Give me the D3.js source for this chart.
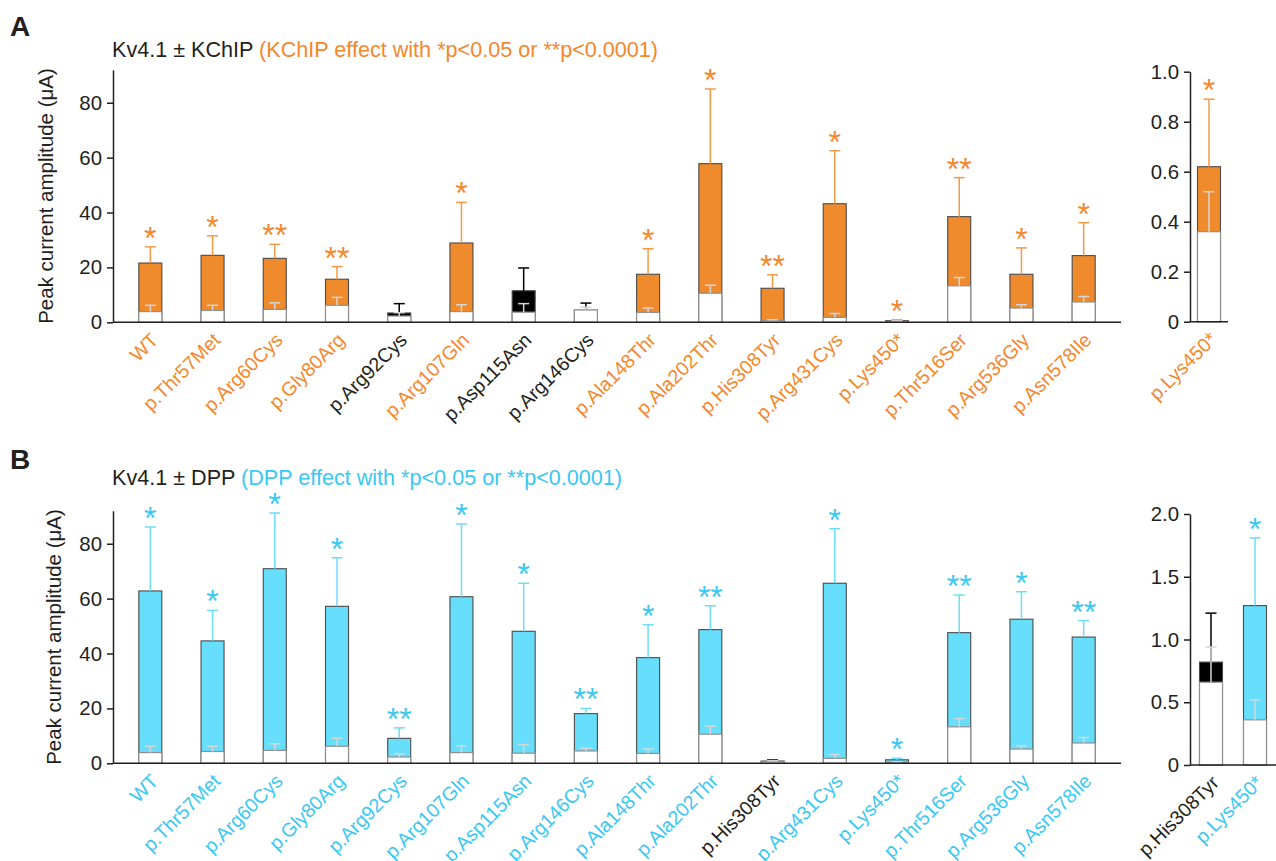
<!DOCTYPE html>
<html><head><meta charset="utf-8">
<script src="https://cdn.jsdelivr.net/npm/d3@7"></script>
<style>
body{margin:0;background:#fff}
svg{display:block}
text{font-family:"Liberation Sans",Arial,Helvetica,sans-serif}
</style>
</head><body>
<svg id="chart" width="1276" height="861"></svg>
<script>
// ---------- data ----------
const categories = ["WT","p.Thr57Met","p.Arg60Cys","p.Gly80Arg","p.Arg92Cys","p.Arg107Gln","p.Asp115Asn","p.Arg146Cys","p.Ala148Thr","p.Ala202Thr","p.His308Tyr","p.Arg431Cys","p.Lys450*","p.Thr516Ser","p.Arg536Gly","p.Asn578Ile"];
const aloneMean = [3.9,4.3,4.7,6.2,2.3,3.9,3.7,4.5,3.6,10.6,0.66,1.8,0.36,13.3,5.2,7.4];
const aloneSem  = [2.3,1.9,2.4,2.9,1.2,2.5,3.1,1.0,1.6,2.9,0.28,1.4,0.16,3.0,1.2,2.0];
const kchipMean = [21.6,24.4,23.3,15.7,3.4,28.9,11.5,4.4,17.5,57.8,12.4,43.2,0.62,38.5,17.5,24.3];
const kchipSem  = [5.9,7.1,5.1,4.6,3.4,14.8,8.3,2.6,9.3,27.2,4.9,19.3,0.27,14.2,9.6,12.0];
const kchipSig  = [1,1,2,2,0,1,0,0,1,1,2,1,1,2,1,1];
const dppMean = [62.8,44.6,70.9,57.2,9.1,60.7,48.1,18.1,38.5,48.7,0.82,65.6,1.27,47.6,52.5,46.0];
const dppSem  = [23.3,11.1,20.3,17.7,3.8,26.5,17.5,1.9,12.0,8.7,0.39,19.9,0.54,13.7,10.0,6.0];
const dppSig  = [1,1,1,1,2,1,1,2,1,2,0,1,1,2,1,2];
const mainTicks = [0,20,40,60,80];
const insetKchipCats = ["p.Lys450*"];
const insetKchipTicks = [0,0.2,0.4,0.6,0.8,1.0];
const insetDppCats = ["p.His308Tyr","p.Lys450*"];
const insetDppTicks = [0,0.5,1.0,1.5,2.0];

// ---------- style ----------
const ink = "#231f20";
const orange = {fill:"#EF8B2D", err:"#F29A48", text:"#F7862A"};
const cyan = {fill:"#66DEFC", err:"#6EDCF8", text:"#38C8F4"};
const BW = 23, CAP = 11;
const fmtInset = v => v === 0 ? "0" : d3.format(".1f")(v);

const svg = d3.select("#chart");
svg.append("rect").attr("width",1276).attr("height",861).attr("fill","#fff");

function drawPanel(o){
  const g = svg.append("g");
  const x = d3.scalePoint().domain(o.cats).range(o.xRange).padding(o.pad);
  const y = d3.scaleLinear().domain(o.yDomain).range(o.yRange);
  const rows = o.cats.map(c => {
    const i = categories.indexOf(c);
    return {c, a:aloneMean[i], as:aloneSem[i], m:o.mean[i], s:o.sem[i], sig:o.sig[i]};
  });
  const y0 = y(0);
  // coloured bars (with accessory subunit)
  g.selectAll(".cb").data(rows).join("rect")
    .attr("x", d => x(d.c) - BW/2).attr("width", BW)
    .attr("y", d => y(d.m)).attr("height", d => y0 - y(d.m))
    .attr("fill", d => d.sig ? o.col.fill : "#000")
    .attr("stroke", "#4a4a4a").attr("stroke-width", 1.1);
  // coloured error bars
  const ce = g.selectAll(".ce").data(rows).join("g")
    .attr("stroke", d => d.sig ? o.col.err : "#000").attr("stroke-width", 1.5);
  ce.append("line").attr("x1", d => x(d.c)).attr("x2", d => x(d.c))
    .attr("y1", d => y(d.m)).attr("y2", d => y(d.m + d.s));
  ce.append("line").attr("x1", d => x(d.c) - CAP/2).attr("x2", d => x(d.c) + CAP/2)
    .attr("y1", d => y(d.m + d.s)).attr("y2", d => y(d.m + d.s));
  // white bars (Kv4.1 alone)
  g.selectAll(".wb").data(rows).join("rect")
    .attr("x", d => x(d.c) - BW/2).attr("width", BW)
    .attr("y", d => y(d.a)).attr("height", d => y0 - y(d.a))
    .attr("fill", "#fff").attr("stroke", "#8f8f8f").attr("stroke-width", 1.2);
  const we = g.selectAll(".we").data(rows).join("g")
    .attr("stroke", "#d6d6d6").attr("stroke-width", 1.5);
  we.append("line").attr("x1", d => x(d.c)).attr("x2", d => x(d.c))
    .attr("y1", d => y(d.a)).attr("y2", d => y(d.a + d.as));
  we.append("line").attr("x1", d => x(d.c) - CAP/2).attr("x2", d => x(d.c) + CAP/2)
    .attr("y1", d => y(d.a + d.as)).attr("y2", d => y(d.a + d.as));
  // significance stars
  g.selectAll(".st").data(rows.filter(d => d.sig)).join("text")
    .attr("x", d => x(d.c)).attr("y", d => y(d.m + d.s) + 2)
    .attr("text-anchor", "middle").attr("font-size", 32)
    .attr("fill", o.col.text).text(d => d.sig === 2 ? "**" : "*");
  // axes
  const ya = d3.axisLeft(y).tickValues(o.ticks).tickSize(6).tickPadding(5).tickSizeOuter(0);
  if (o.fmt) ya.tickFormat(o.fmt);
  const ag = g.append("g").attr("transform", `translate(${o.xRange[0]},0)`).call(ya);
  ag.select(".domain").attr("stroke", ink).attr("stroke-width", 1.5);
  ag.selectAll(".tick line").attr("stroke", ink).attr("stroke-width", 1.5);
  ag.selectAll(".tick text").attr("font-size", 20.4).attr("fill", ink)
    .attr("font-family", '"Liberation Sans",Arial,sans-serif');
  g.append("line").attr("x1", o.xRange[0]).attr("x2", o.xEnd)
    .attr("y1", y0).attr("y2", y0).attr("stroke", ink).attr("stroke-width", 1.5);
  // category labels
  g.selectAll(".xl").data(rows).join("text")
    .attr("transform", d => `translate(${x(d.c) + 9},${y0 + 19}) rotate(-45)`)
    .attr("text-anchor", "end").attr("font-size", 19.5)
    .attr("fill", d => d.sig ? o.col.text : ink).text(d => d.c);
  return {x, y};
}

function drawHeader(letter, ly, titleY, black, coloured, col, labelX, axisMid){
  svg.append("text").attr("x", 10).attr("y", ly).attr("font-size", 28)
    .attr("font-weight", "bold").attr("fill", ink).text(letter);
  const t = svg.append("text").attr("x", 112).attr("y", titleY).attr("font-size", 21.6).attr("fill", ink);
  t.append("tspan").text(black);
  t.append("tspan").attr("fill", col.text).text(coloured);
  svg.append("text").attr("transform", `translate(${labelX},${axisMid}) rotate(-90)`)
    .attr("text-anchor", "middle").attr("font-size", 20.5).attr("fill", ink)
    .text("Peak current amplitude (\u03BCA)");
}

// Panel A
drawHeader("A", 36, 56.5, "Kv4.1 \u00B1 KChIP ", "(KChIP effect with *p<0.05 or **p<0.0001)", orange, 53, 196);
drawPanel({cats:categories, xRange:[113,1121], pad:0.6, xEnd:1121,
  yDomain:[0,92], yRange:[322.3,69.8], ticks:mainTicks,
  mean:kchipMean, sem:kchipSem, sig:kchipSig, col:orange});
drawPanel({cats:insetKchipCats, xRange:[1190,1228], pad:0.5, xEnd:1228,
  yDomain:[0,1], yRange:[321.7,71.7], ticks:insetKchipTicks, fmt:fmtInset,
  mean:kchipMean, sem:kchipSem, sig:kchipSig, col:orange});

// Panel B
drawHeader("B", 469, 485.3, "Kv4.1 \u00B1 DPP ", "(DPP effect with *p<0.05 or **p<0.0001)", cyan, 61, 637);
drawPanel({cats:categories, xRange:[113,1121], pad:0.6, xEnd:1121,
  yDomain:[0,92], yRange:[763.3,510.8], ticks:mainTicks,
  mean:dppMean, sem:dppSem, sig:dppSig, col:cyan});
drawPanel({cats:insetDppCats, xRange:[1190,1276], pad:0.477, xEnd:1276,
  yDomain:[0,2], yRange:[765,514], ticks:insetDppTicks, fmt:fmtInset,
  mean:dppMean, sem:dppSem, sig:dppSig, col:cyan});
</script>
</body></html>
